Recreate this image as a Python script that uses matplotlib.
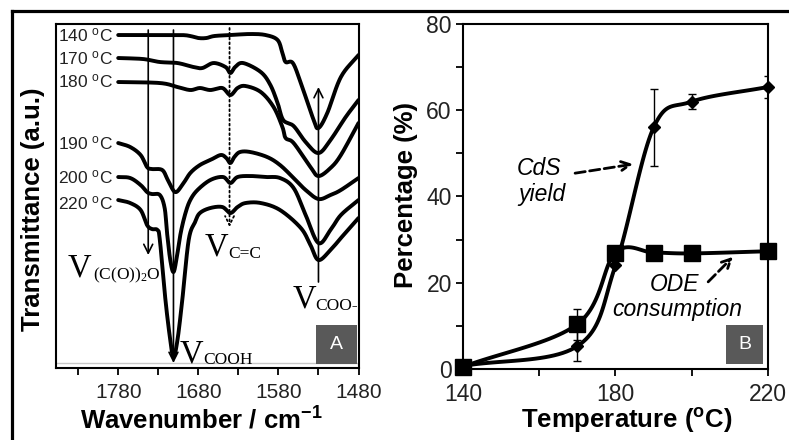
import numpy as np
import matplotlib
matplotlib.use('Agg')
import matplotlib.pyplot as plt
from matplotlib.patches import Rectangle
from matplotlib.lines import Line2D

plt.rcParams['font.family'] = ['Liberation Sans', 'DejaVu Sans']
plt.rcParams['mathtext.fontset'] = 'custom'
plt.rcParams['mathtext.rm'] = 'Liberation Serif'
plt.rcParams['mathtext.sf'] = 'Liberation Sans'
plt.rcParams['mathtext.bf'] = 'Liberation Sans:bold'
plt.rcParams['mathtext.it'] = 'Liberation Sans:italic'

# ---------------- data: panel A (IR spectra, transmittance a.u.) ----------------
wn140 = [1780, 1740, 1702, 1690, 1680, 1670, 1660, 1640, 1615, 1596, 1581, 1575, 1571, 1562, 1552, 1536, 1530, 1519, 1502, 1480]
t140 = [333, 333, 333, 332, 330, 330, 332, 333, 334, 333, 328, 315, 306, 305, 285, 248, 240, 255, 291, 313]

wn170 = [1780, 1749, 1728, 1706, 1686, 1675, 1661, 1646, 1640, 1634, 1624, 1602, 1590, 1581, 1574, 1561, 1546, 1530, 1515, 1496, 1480]
t170 = [310, 309, 306, 305, 301, 300, 305, 301, 295, 301, 305, 296, 283, 265, 248, 242, 226, 215, 228, 251, 268]

wn180 = [1780, 1728, 1706, 1690, 1678, 1665, 1650, 1640, 1631, 1621, 1602, 1586, 1575, 1571, 1561, 1540, 1530, 1515, 1502, 1480]
t180 = [286, 285, 281, 278, 280, 278, 280, 273, 280, 282, 276, 261, 241, 230, 225, 201, 192, 200, 213, 245]

wn190 = [1780, 1765, 1752, 1744, 1738, 1725, 1718, 1709, 1700, 1690, 1678, 1665, 1652, 1645, 1640, 1635, 1628, 1615, 1594, 1578, 1561, 1546, 1530, 1515, 1502, 1480]
t190 = [225, 221, 213, 201, 199, 198, 188, 176, 183, 195, 203, 208, 213, 210, 205, 211, 216, 216, 211, 203, 190, 178, 169, 173, 178, 190]

wn200 = [1780, 1765, 1752, 1744, 1738, 1728, 1722, 1719, 1715, 1711, 1707, 1702, 1696, 1690, 1681, 1665, 1649, 1640, 1631, 1615, 1596, 1578, 1561, 1546, 1530, 1515, 1502, 1480]
t200 = [191, 190, 183, 176, 174, 173, 160, 135, 108, 96, 110, 135, 155, 168, 178, 188, 191, 185, 191, 192, 191, 190, 180, 153, 125, 138, 153, 168]

wn220 = [1780, 1765, 1752, 1744, 1738, 1731, 1728, 1721, 1715, 1711, 1706, 1700, 1692, 1684, 1678, 1665, 1650, 1640, 1631, 1621, 1602, 1578, 1552, 1540, 1530, 1515, 1502, 1480]
t220 = [168, 165, 158, 143, 139, 138, 128, 68, 28, 11, 28, 68, 128, 146, 155, 160, 161, 155, 161, 165, 165, 158, 140, 123, 108, 118, 130, 150]

spectra_labels = ['140', '170', '180', '190', '200', '220']
label_au = [333, 310, 287, 225, 191, 165]

# ---------------- data: panel B ----------------
temps = [140, 170, 180, 190, 200, 220]
cds_yield = [0.7, 5.3, 24, 56, 62, 65.4]
cds_err = [0, 3.5, 0, 9, 1.8, 2.5]
ode_cons = [0.5, 10.4, 27, 27, 26.8, 27.3]
ode_err = [0, 3.6, 0, 0, 0, 0]


def smooth(x, y, n=24):
    """Catmull-Rom rendering through the read points (smoothed line style)."""
    P = np.column_stack([np.asarray(x, float), np.asarray(y, float)])
    P = np.vstack([2 * P[0] - P[1], P, 2 * P[-1] - P[-2]])
    t = np.linspace(0, 1, n, endpoint=False)[:, None]
    out = []
    for i in range(1, len(P) - 2):
        p0, p1, p2, p3 = P[i - 1], P[i], P[i + 1], P[i + 2]
        seg = 0.5 * (2 * p1 + (-p0 + p2) * t + (2 * p0 - 5 * p1 + 4 * p2 - p3) * t ** 2
                     + (-p0 + 3 * p1 - 3 * p2 + p3) * t ** 3)
        out.append(seg)
    out.append(P[-2][None, :])
    S = np.vstack(out)
    return S[:, 0], S[:, 1]


fig = plt.figure(figsize=(7.89, 4.40), dpi=100)
fig.patch.set_facecolor('white')

# outer frame lines
fig.add_artist(Line2D([11.5 / 789, 1.0], [1 - 11.5 / 440, 1 - 11.5 / 440], transform=fig.transFigure, color='black', lw=2.3))
fig.add_artist(Line2D([11.5 / 789, 11.5 / 789], [0, 1 - 11.5 / 440], transform=fig.transFigure, color='black', lw=2.3))

# ---------------- Panel A ----------------
ax1 = fig.add_axes([0.0706, 0.1636, 0.3838, 0.7818])
ax1.set_xlim(1858, 1480)
ax1.set_ylim(0, 344)
for s in ax1.spines.values():
    s.set_linewidth(1.5)
ax1.set_yticks([])
ax1.set_xticks([1830, 1780, 1730, 1680, 1630, 1580, 1530, 1480])
ax1.set_xticklabels(['', '1780', '', '1680', '', '1580', '', '1480'])
ax1.tick_params(axis='x', direction='out', length=5, width=1.3, labelsize=15, pad=6, colors='black', labelcolor='#222222')
ax1.axhline(5.3, color='#c8c8c8', lw=1.0, zorder=1)

for wn, tr in [(wn140, t140), (wn170, t170), (wn180, t180), (wn190, t190), (wn200, t200), (wn220, t220)]:
    xs, ys = smooth(wn, tr)
    ax1.plot(xs, ys, color='black', lw=2.8, solid_capstyle='round', solid_joinstyle='round', zorder=3)

for lab, yy in zip(spectra_labels, label_au):
    ax1.text(1786, yy, lab + r' $^{\mathsf{o}}$C', ha='right', va='center', fontsize=12.5, color='#222222')

# marker lines / arrows
ax1.annotate('', xy=(1742.5, 113), xytext=(1742.5, 338),
             arrowprops=dict(arrowstyle='->', lw=1.2, color='black', mutation_scale=16, shrinkA=0, shrinkB=0))
ax1.annotate('', xy=(1711, 5), xytext=(1711, 338),
             arrowprops=dict(arrowstyle='->', lw=1.2, color='black', mutation_scale=16, shrinkA=0, shrinkB=0))
ax1.annotate('', xy=(1641, 141), xytext=(1641, 340),
             arrowprops=dict(arrowstyle='->', lw=1.3, ls=':', color='black', mutation_scale=16, shrinkA=0, shrinkB=0))
ax1.annotate('', xy=(1530, 281), xytext=(1530, 86),
             arrowprops=dict(arrowstyle='->', lw=1.2, color='black', mutation_scale=16, shrinkA=0, shrinkB=0))

serif = 'Liberation Serif'
vsize = 23.5
ssize = 12.5
ax1.text(1843, 92, 'V', fontsize=vsize, family=serif, ha='left', va='baseline')
ax1.text(1812, 89, r'(C(O))$_2$O', fontsize=ssize, family=serif, ha='left', va='baseline')
ax1.text(1703, 6, 'V', fontsize=vsize, family=serif, ha='left', va='baseline')
ax1.text(1674, 4, 'COOH', fontsize=ssize, family=serif, ha='left', va='baseline')
ax1.text(1672, 113, 'V', fontsize=vsize, family=serif, ha='left', va='baseline')
ax1.text(1642, 110, 'C=C', fontsize=ssize, family=serif, ha='left', va='baseline')
ax1.text(1562, 61, 'V', fontsize=vsize, family=serif, ha='left', va='baseline')
ax1.text(1534, 58, 'COO-', fontsize=ssize, family=serif, ha='left', va='baseline')

ax1.add_patch(Rectangle((1532.5, 4), -51.2, 39, facecolor='#595959', edgecolor='none', zorder=4))
ax1.text(1507, 23.5, 'A', color='white', fontsize=14, ha='center', va='center', zorder=5)

fig.text(201 / 789, 1 - 421 / 440, r'Wavenumber / cm$^{\mathbf{-1}}$', fontsize=18.5, fontweight='bold', ha='center', va='center')
fig.text(33 / 789, 1 - 209 / 440, 'Transmittance (a.u.)', fontsize=18.5, fontweight='bold', ha='center', va='center', rotation=90)

# ---------------- Panel B ----------------
ax2 = fig.add_axes([0.5868, 0.1614, 0.3866, 0.7841])
ax2.set_xlim(140, 220)
ax2.set_ylim(0, 80)
for s in ax2.spines.values():
    s.set_linewidth(1.5)
ax2.set_xticks([140, 160, 180, 200, 220])
ax2.set_xticklabels(['140', '', '180', '', '220'])
ax2.set_yticks([0, 20, 40, 60, 80])
ax2.set_yticks([10, 30, 50, 70], minor=True)
ax2.tick_params(axis='both', which='both', direction='out', length=5, width=1.3, labelsize=16.5, labelcolor='#222222')
ax2.tick_params(axis='x', pad=5)
ax2.tick_params(axis='y', pad=3)

xs, ys = smooth(temps, ode_cons)
ax2.plot(xs, ys, color='black', lw=2.8, zorder=3, clip_on=False)
xs, ys = smooth(temps, cds_yield)
ax2.plot(xs, ys, color='black', lw=2.8, zorder=3, clip_on=False)

for vals, errs in [(cds_yield, cds_err), (ode_cons, ode_err)]:
    tt = [t for t, e in zip(temps, errs) if e > 0]
    vv = [v for v, e in zip(vals, errs) if e > 0]
    ee = [e for e in errs if e > 0]
    ax2.errorbar(tt, vv, yerr=ee, fmt='none', ecolor='black', elinewidth=1.0, capsize=3, capthick=1.0, zorder=4)

ax2.plot(temps, ode_cons, 's', ms=11, color='black', zorder=5, clip_on=False)
ax2.plot(temps, cds_yield, 'D', ms=6.5, color='black', zorder=5, clip_on=False)

ax2.text(154.2, 45, 'CdS', fontsize=16.5, style='italic', ha='left', va='baseline')
ax2.text(154.4, 39, 'yield', fontsize=16.5, style='italic', ha='left', va='baseline')
ax2.annotate('', xy=(184.6, 47.5), xytext=(169.4, 45.4),
             arrowprops=dict(arrowstyle='->', lw=2.0, ls='--', color='black', mutation_scale=16, shrinkA=0, shrinkB=0))
ax2.text(189, 18.1, 'ODE', fontsize=16.5, style='italic', ha='left', va='baseline')
ax2.text(179.1, 12.3, 'consumption', fontsize=16.5, style='italic', ha='left', va='baseline')
ax2.annotate('', xy=(210.8, 26), xytext=(204.3, 20.2),
             arrowprops=dict(arrowstyle='->', lw=2.0, ls='--', color='black', mutation_scale=16, shrinkA=0, shrinkB=0))

ax2.add_patch(Rectangle((209.0, 1.2), 9.7, 9.0, facecolor='#595959', edgecolor='none', zorder=6))
ax2.text(213.85, 5.7, 'B', color='white', fontsize=14, ha='center', va='center', zorder=7)

fig.text(627 / 789, 1 - 420 / 440, r'Temperature ($^{\mathbf{o}}$C)', fontsize=18.5, fontweight='bold', ha='center', va='center')
fig.text(406 / 789, 1 - 195 / 440, 'Percentage (%)', fontsize=18.5, fontweight='bold', ha='center', va='center', rotation=90)

fig.savefig('out.png', dpi=100)
